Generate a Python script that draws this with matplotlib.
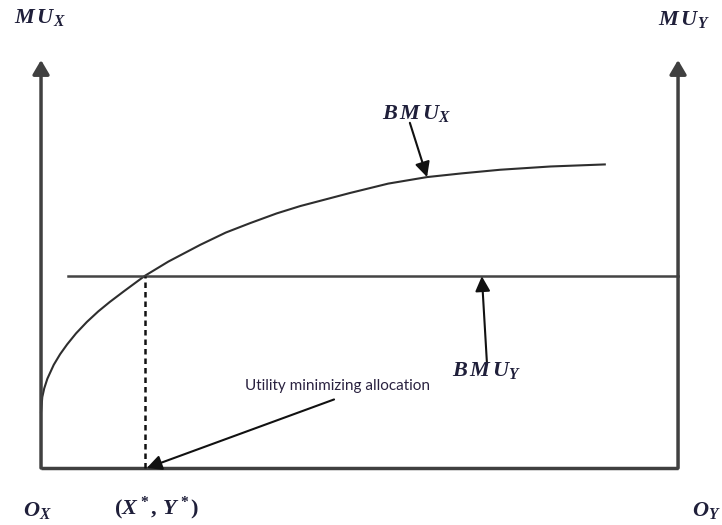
import matplotlib.pyplot as plt

plt.rcParams['mathtext.fontset'] = 'custom'
plt.rcParams['mathtext.it'] = 'Liberation Serif:italic:bold'
plt.rcParams['mathtext.rm'] = 'Liberation Serif:bold'
plt.rcParams['mathtext.bf'] = 'Liberation Serif:bold'

# BMU_X curve, points
curve_x = [0, 0.02, 0.05, 0.1, 0.2, 0.3, 0.41, 0.55, 0.72, 0.9, 1.08, 1.3, 1.63,
           2.0, 2.5, 2.9, 3.28, 3.7, 4.07, 4.85, 5.45, 6.06, 6.6, 7.21, 8.0, 8.85]
curve_y = [1.37, 1.74, 1.95, 2.19, 2.53, 2.79, 3.03, 3.30, 3.58, 3.84, 4.07, 4.33, 4.71,
           5.06, 5.47, 5.77, 6.00, 6.24, 6.42, 6.74, 6.97, 7.13, 7.22, 7.31, 7.39, 7.44]

# BMU_Y level and where it starts
bmu_y_level = 4.71
bmu_y_start = 0.42
bmu_y_end = 10

# equilibrium point
x_star = 1.63

axis_top = 10
axis_right = 10

ink = '#1f1f3a'
line_col = '#404040'

fig = plt.figure(figsize=(7.22, 5.25), dpi=100)
ax = fig.add_axes([0, 0, 1, 1])
ax.set_xlim(-0.644, 10.69)
ax.set_ylim(-1.397, 11.47)
ax.axis('off')

# axes box: two vertical arrows and bottom line
head = dict(arrowstyle='-|>,head_length=0.85,head_width=0.5', color=line_col,
            lw=2.5, mutation_scale=10, shrinkA=0, shrinkB=0)
ax.annotate('', xy=(0, axis_top), xytext=(0, 0), arrowprops=head)
ax.annotate('', xy=(axis_right, axis_top), xytext=(axis_right, 0), arrowprops=head)
ax.plot([0, axis_right], [0, 0], color=line_col, lw=2.5, solid_capstyle='butt')

# curves
ax.plot(curve_x, curve_y, color='#2e2e2e', lw=1.5)
ax.plot([bmu_y_start, bmu_y_end], [bmu_y_level, bmu_y_level], color='#444444', lw=1.8)
ax.plot([x_star, x_star], [0, bmu_y_level], color='#111111', lw=1.8,
        linestyle=(0, (2.2, 1.6)))

# pointer arrows
ptr = dict(arrowstyle='-|>,head_length=0.9,head_width=0.45', color='#111111',
           lw=1.5, mutation_scale=10, shrinkA=0, shrinkB=0)
ax.annotate('', xy=(6.06, 7.13), xytext=(5.79, 8.46), arrowprops=ptr)
ax.annotate('', xy=(6.92, 4.70), xytext=(7.00, 2.57), arrowprops=ptr)
ax.annotate('', xy=(1.66, 0.0), xytext=(4.60, 1.68), arrowprops=ptr)

# labels
fs = 16
ax.text(-0.02, 11.03, r'$M\,U_X$', color=ink, fontsize=fs, ha='center', va='center')
ax.text(10.09, 11.0, r'$M\,U_Y$', color=ink, fontsize=fs, ha='center', va='center')
ax.text(5.89, 8.70, r'$B\,M\,U_X$', color=ink, fontsize=fs, ha='center', va='center')
ax.text(6.99, 2.38, r'$B\,M\,U_Y$', color=ink, fontsize=fs, ha='center', va='center')
ax.text(-0.06, -1.05, r'$O_X$', color=ink, fontsize=fs, ha='center', va='center')
ax.text(1.82, -1.0, r'$(X^*,\,Y^*)$', color=ink, fontsize=fs, ha='center', va='center')
ax.text(10.44, -1.03, r'$O_Y$', color=ink, fontsize=fs, ha='center', va='center')
ax.text(4.65, 2.0, 'Utility minimizing allocation', color='#2a2240', fontsize=11,
        family='Lato', ha='center', va='center')

fig.savefig('out.png', dpi=100)
